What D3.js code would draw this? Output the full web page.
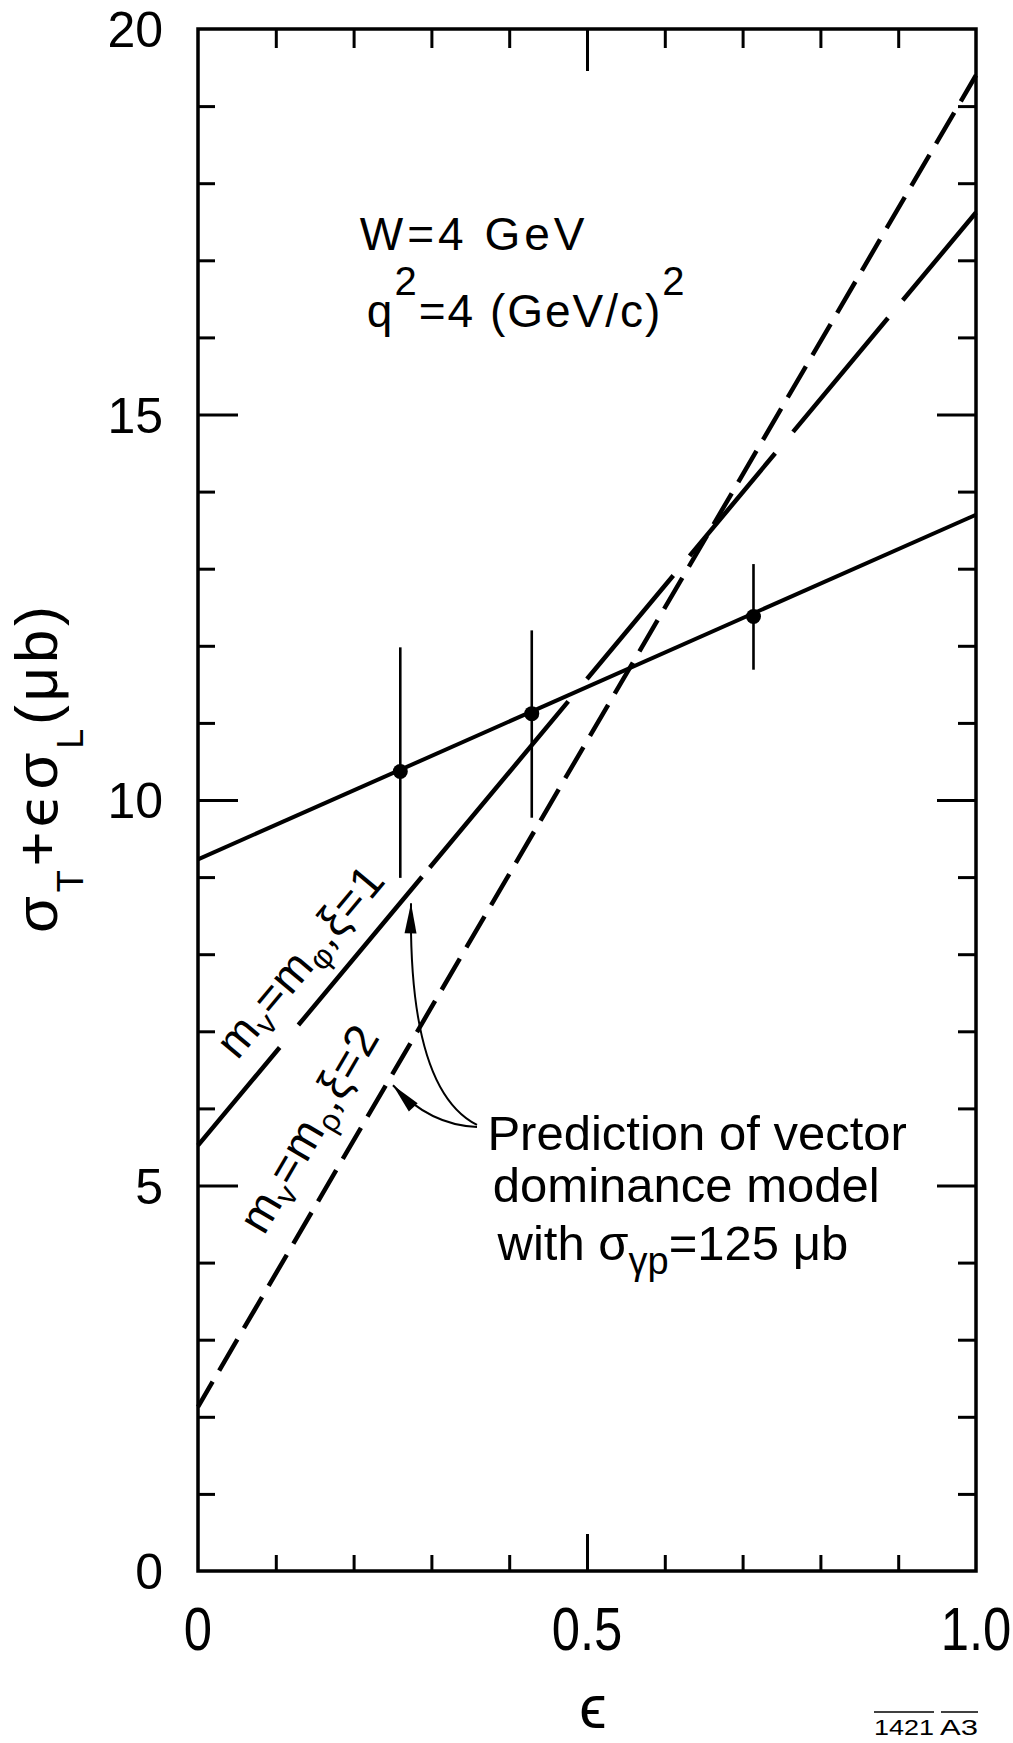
<!DOCTYPE html>
<html>
<head>
<meta charset="utf-8">
<script src="https://cdn.jsdelivr.net/npm/d3@7"></script>
<style>
  html, body { margin: 0; padding: 0; background: #fff; }
  svg { display: block; }
  text { font-family: "Liberation Sans", Arial, sans-serif; fill: #000; }
</style>
</head>
<body>
<svg id="chart" width="1013" height="1743"></svg>
<script>
// Measured cross sections (W = 4 GeV, q^2 = 4 (GeV/c)^2)
const epsilon   = [0.26, 0.429, 0.714];
const sigma     = [10.37, 11.12, 12.38];
const sigmaLow  = [8.99, 9.77, 11.69];
const sigmaHigh = [11.98, 12.20, 13.06];

// Straight lines, values at epsilon = 0 and epsilon = 1
const lineEps  = [0, 1];
const fitLine  = [9.23, 13.70];   // straight-line fit through the data
const phiModel = [5.52, 17.62];   // VDM, m_V = m_phi, xi = 1
const rhoModel = [2.13, 19.40];   // VDM, m_V = m_rho, xi = 2

// Axis tick labels
const xTickValues = [0, 0.5, 1.0];
const xTickLabels = ["0", "0.5", "1.0"];
const yTickValues = [0, 5, 10, 15, 20];
const yTickLabels = ["0", "5", "10", "15", "20"];

const svg = d3.select("#chart");
svg.append("rect").attr("width", 1013).attr("height", 1743).attr("fill", "#fff");

const x = d3.scaleLinear().domain([0, 1]).range([198, 976]);
const y = d3.scaleLinear().domain([0, 20]).range([1571, 29]);

// ---- frame and inward ticks ----
const minorX = d3.range(1, 10).map(i => i / 10);
const minorY = d3.range(1, 20);

function styleAxis(g, isMajor, majorLen) {
  g.select(".domain").remove();
  g.selectAll(".tick line")
    .attr("stroke", "#000").attr("stroke-width", 3);
  g.selectAll(".tick").filter(isMajor).select("line").each(function () {
    const l = d3.select(this);
    if (l.attr("x2") !== null && +l.attr("x2") !== 0) l.attr("x2", Math.sign(+l.attr("x2")) * majorLen);
    if (l.attr("y2") !== null && +l.attr("y2") !== 0) l.attr("y2", Math.sign(+l.attr("y2")) * majorLen);
  });
}
const isHalf = d => Math.abs(d - 0.5) < 1e-9;
const isFive = d => d % 5 === 0;

svg.append("g").attr("transform", `translate(0,${y(0)})`)
  .call(d3.axisBottom(x).tickValues(minorX).tickSize(-16).tickFormat(""))
  .call(g => styleAxis(g, isHalf, 37));
svg.append("g").attr("transform", `translate(0,${y(20)})`)
  .call(d3.axisTop(x).tickValues(minorX).tickSize(-19).tickFormat(""))
  .call(g => styleAxis(g, isHalf, 42));
svg.append("g").attr("transform", `translate(${x(0)},0)`)
  .call(d3.axisLeft(y).tickValues(minorY).tickSize(-17).tickFormat(""))
  .call(g => styleAxis(g, isFive, 40));
svg.append("g").attr("transform", `translate(${x(1)},0)`)
  .call(d3.axisRight(y).tickValues(minorY).tickSize(-18).tickFormat(""))
  .call(g => styleAxis(g, isFive, 39));

svg.append("rect")
  .attr("x", x(0)).attr("y", y(20))
  .attr("width", x(1) - x(0)).attr("height", y(0) - y(20))
  .attr("fill", "none").attr("stroke", "#000").attr("stroke-width", 3.5);

// ---- tick labels ----
svg.append("g").selectAll("text").data(yTickValues).join("text")
  .attr("x", 163).attr("y", d => y(d) + 18)
  .attr("text-anchor", "end").attr("font-size", 50)
  .text((d, i) => yTickLabels[i]);

svg.append("g").selectAll("text").data(xTickValues).join("text")
  .attr("transform", d => `translate(${x(d)},1650) scale(0.82,1)`)
  .attr("text-anchor", "middle").attr("font-size", 62)
  .text((d, i) => xTickLabels[i]);

// ---- axis titles ----
const yTitle = svg.append("text")
  .attr("transform", "translate(57,933) rotate(-90)")
  .attr("font-size", 60)
  .attr("textLength", 327).attr("lengthAdjust", "spacing");
yTitle.append("tspan").text("σ");
yTitle.append("tspan").attr("font-size", 36).attr("dy", 26).text("T");
yTitle.append("tspan").attr("dy", -26).text("+");
yTitle.append("tspan").attr("font-family", "DejaVu Sans").attr("font-size", 56).text("ϵ");
yTitle.append("tspan").text("σ");
yTitle.append("tspan").attr("font-size", 36).attr("dy", 26).text("L");
yTitle.append("tspan").attr("dy", -26).text("(μb)");

svg.append("text")
  .attr("x", x(0.5) + 6).attr("y", 1728)
  .attr("text-anchor", "middle")
  .attr("font-family", "DejaVu Sans").attr("font-size", 62)
  .text("ϵ");

// ---- lines ----
const line = d3.line().x((d, i) => x(lineEps[i])).y(d => y(d));

// pixel length of a model line per unit epsilon
function pxPerEps(vals) {
  const dx = x(1) - x(0), dy = y(vals[1]) - y(vals[0]);
  return Math.hypot(dx, dy);
}
// hand-cut dash pattern of the phi line: breaks given in epsilon
const phiBreaks = [[0.105, 0.129], [0.288, 0.298], [0.476, 0.500],
                   [0.611, 0.632], [0.742, 0.765], [0.887, 0.906]];
const phiDash = (() => {
  const k = pxPerEps(phiModel), out = [];
  let pos = 0;
  phiBreaks.forEach(([a, b]) => { out.push((a - pos) * k, (b - a) * k); pos = b; });
  out.push((1 - pos) * k + 20, 0.1);
  return out.map(v => v.toFixed(1)).join(" ");
})();

svg.append("path").attr("d", line(fitLine))
  .attr("fill", "none").attr("stroke", "#000").attr("stroke-width", 4);

svg.append("path").attr("d", line(phiModel))
  .attr("fill", "none").attr("stroke", "#000").attr("stroke-width", 4.5)
  .attr("stroke-dasharray", phiDash);

svg.append("path").attr("d", line(rhoModel))
  .attr("fill", "none").attr("stroke", "#000").attr("stroke-width", 4.5)
  .attr("stroke-dasharray", "36 13").attr("stroke-dashoffset", 7);

// ---- data points with error bars ----
const pts = svg.append("g");
pts.selectAll("line").data(epsilon).join("line")
  .attr("x1", d => x(d)).attr("x2", d => x(d))
  .attr("y1", (d, i) => y(sigmaLow[i])).attr("y2", (d, i) => y(sigmaHigh[i]))
  .attr("stroke", "#000").attr("stroke-width", 2.6);
pts.selectAll("circle").data(epsilon).join("circle")
  .attr("cx", d => x(d)).attr("cy", (d, i) => y(sigma[i])).attr("r", 7.5)
  .attr("fill", "#000");

// ---- labels along the model lines ----
function alongLine(vals, e0, offset, fontSize, parts) {
  const ang = Math.atan2(y(vals[1]) - y(vals[0]), x(1) - x(0));
  const nx = Math.sin(ang), ny = -Math.cos(ang);
  const px = x(e0) + nx * offset, py = y(vals[0] + (vals[1] - vals[0]) * e0) + ny * offset;
  const t = svg.append("text")
    .attr("transform", `translate(${px},${py}) rotate(${ang * 180 / Math.PI})`)
    .attr("font-size", fontSize).attr("letter-spacing", 1);
  parts.forEach(p => {
    const s = t.append("tspan").text(p.t);
    if (p.sub) s.attr("font-size", fontSize * 0.68).attr("dy", p.sub);
    if (p.up) s.attr("dy", -p.up);
  });
}
alongLine(phiModel, 0.074, 24, 46, [
  { t: "m" }, { t: "v", sub: 9 }, { t: "=m", up: 9 }, { t: "φ", sub: 9 }, { t: ",ξ=1", up: 9 }
]);
alongLine(rhoModel, 0.117, 29, 46, [
  { t: "m" }, { t: "v", sub: 9 }, { t: "=m", up: 9 }, { t: "ρ", sub: 9 }, { t: ",ξ=2", up: 9 }
]);

// ---- kinematics note ----
svg.append("text").attr("x", x(0.208)).attr("y", y(17.13))
  .attr("font-size", 46).attr("letter-spacing", 4).text("W=4 GeV");
const q = svg.append("text").attr("x", x(0.217)).attr("y", y(16.13))
  .attr("font-size", 46).attr("letter-spacing", 2);
q.append("tspan").text("q");
q.append("tspan").attr("font-size", 40).attr("dy", -32).text("2");
q.append("tspan").attr("dy", 32).text("=4 (GeV/c)");
q.append("tspan").attr("font-size", 40).attr("dy", -32).text("2");

// ---- prediction note with arrows ----
const note = svg.append("g").attr("font-size", 49);
note.append("text").attr("x", x(0.372)).attr("y", y(5.46)).text("Prediction of vector");
note.append("text").attr("x", x(0.379)).attr("y", y(4.79)).text("dominance model");
const w = note.append("text").attr("x", x(0.385)).attr("y", y(4.03));
w.append("tspan").text("with ");
w.append("tspan").text("σ");
w.append("tspan").attr("font-size", 38).attr("dy", 14).text("γp");
w.append("tspan").attr("dy", -14).text("=125 μb");

function arrow(s, c, e) {
  const S = [x(s[0]), y(s[1])], C = [x(c[0]), y(c[1])], E = [x(e[0]), y(e[1])];
  svg.append("path")
    .attr("d", `M${S[0]},${S[1]} Q${C[0]},${C[1]} ${E[0]},${E[1]}`)
    .attr("fill", "none").attr("stroke", "#000").attr("stroke-width", 2);
  const a = Math.atan2(E[1] - C[1], E[0] - C[0]);
  const L = 30, W = 6;
  const bx = E[0] - L * Math.cos(a), by = E[1] - L * Math.sin(a);
  const ox = -Math.sin(a) * W, oy = Math.cos(a) * W;
  svg.append("path")
    .attr("d", `M${E[0]},${E[1]} L${bx + ox},${by + oy} L${bx - ox},${by - oy} Z`)
    .attr("fill", "#000");
}
arrow([0.3586, 5.785], [0.270, 6.24], [0.2738, 8.66]);
arrow([0.3586, 5.76], [0.298, 5.78], [0.2506, 6.30]);

// ---- figure number ----
svg.append("text").attr("x", 874).attr("y", 1735)
  .attr("font-size", 22).attr("textLength", 60).attr("lengthAdjust", "spacingAndGlyphs").text("1421");
svg.append("text").attr("x", 940).attr("y", 1735)
  .attr("font-size", 22).attr("textLength", 38).attr("lengthAdjust", "spacingAndGlyphs").text("A3");
svg.append("line").attr("x1", 874).attr("x2", 934).attr("y1", 1712).attr("y2", 1712)
  .attr("stroke", "#000").attr("stroke-width", 1.6);
svg.append("line").attr("x1", 941).attr("x2", 978).attr("y1", 1712).attr("y2", 1712)
  .attr("stroke", "#000").attr("stroke-width", 1.6);
</script>
</body>
</html>
